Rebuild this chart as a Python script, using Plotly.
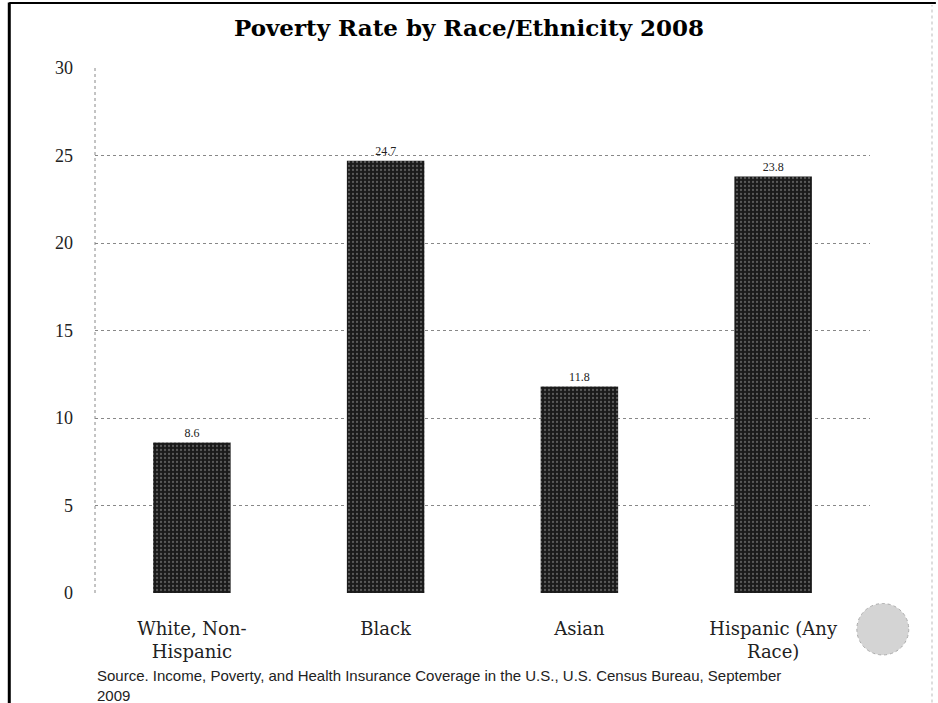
import plotly.graph_objects as go

categories = ["White, Non-<br>Hispanic", "Black", "Asian", "Hispanic (Any<br>Race)"]
rates = [8.6, 24.7, 11.8, 23.8]
rate_labels = ["8.6", "24.7", "11.8", "23.8"]
y_ticks = [0, 5, 10, 15, 20, 25, 30]

serif = "Liberation Serif, Times New Roman, serif"
wide_serif = "DejaVu Serif, serif"

fig = go.Figure()
fig.add_trace(go.Bar(
    x=categories,
    y=rates,
    text=rate_labels,
    textposition="outside",
    textfont=dict(family=serif, size=12, color="#222"),
    width=0.4,
    marker=dict(
        color="#1a1a1a",
        line=dict(width=0),
        pattern=dict(shape=".", fgcolor="#9a9a9a", bgcolor="#1a1a1a", size=4, solidity=0.25),
    ),
    cliponaxis=False,
))

fig.update_layout(
    width=938,
    height=703,
    margin=dict(l=95, r=68, t=68, b=110),
    paper_bgcolor="white",
    plot_bgcolor="white",
    showlegend=False,
    title=dict(
        text="<b>Poverty Rate by Race/Ethnicity 2008</b>",
        x=0.5, xanchor="center", y=0.96, yanchor="middle",
        font=dict(family=wide_serif, size=23, color="black"),
    ),
    xaxis=dict(
        showgrid=False,
        showline=False,
        ticks="",
        ticklabelstandoff=23,
        tickfont=dict(family=wide_serif, size=18, color="#222"),
    ),
    yaxis=dict(
        range=[0, 30],
        tickvals=y_ticks,
        ticktext=[str(v) for v in y_ticks],
        showgrid=True,
        gridcolor="#888",
        griddash="dot",
        gridwidth=1,
        zeroline=False,
        showline=False,
        ticks="",
        ticklabelstandoff=21,
        tickfont=dict(family=serif, size=18, color="#222"),
    ),
    annotations=[
        dict(
            text="Source. Income, Poverty, and Health Insurance Coverage in the U.S., U.S. Census Bureau, September<br>2009",
            xref="paper", yref="paper", x=0, y=-0.138,
            xanchor="left", yanchor="top", align="left", showarrow=False,
            font=dict(family="Liberation Sans, Arial, sans-serif", size=15, color="#222"),
        )
    ],
    shapes=[
        # dotted y-axis spine
        dict(type="line", xref="paper", yref="paper", x0=0, x1=0, y0=0, y1=1,
             line=dict(color="#888", width=1, dash="dot")),
        # page frame: left and top rules
        dict(type="line", xref="paper", yref="paper", x0=-0.1106, x1=-0.1106, y0=-0.22, y1=1.125,
             line=dict(color="black", width=3)),
        dict(type="line", xref="paper", yref="paper", x0=-0.1106, x1=1.085, y0=1.124, y1=1.124,
             line=dict(color="black", width=2)),
        # faint dotted rule on the right edge
        dict(type="line", xref="paper", yref="paper", x0=1.08, x1=1.08, y0=-0.22, y1=1.12,
             line=dict(color="#bbb", width=1, dash="dot")),
        # round seal beside the last label
        dict(type="circle", xref="paper", yref="paper", x0=0.983, x1=1.05, y0=-0.118, y1=-0.02,
             fillcolor="#d4d4d4", line=dict(color="#aaa", width=1, dash="dot")),
    ],
)

fig.write_html("out.html")
